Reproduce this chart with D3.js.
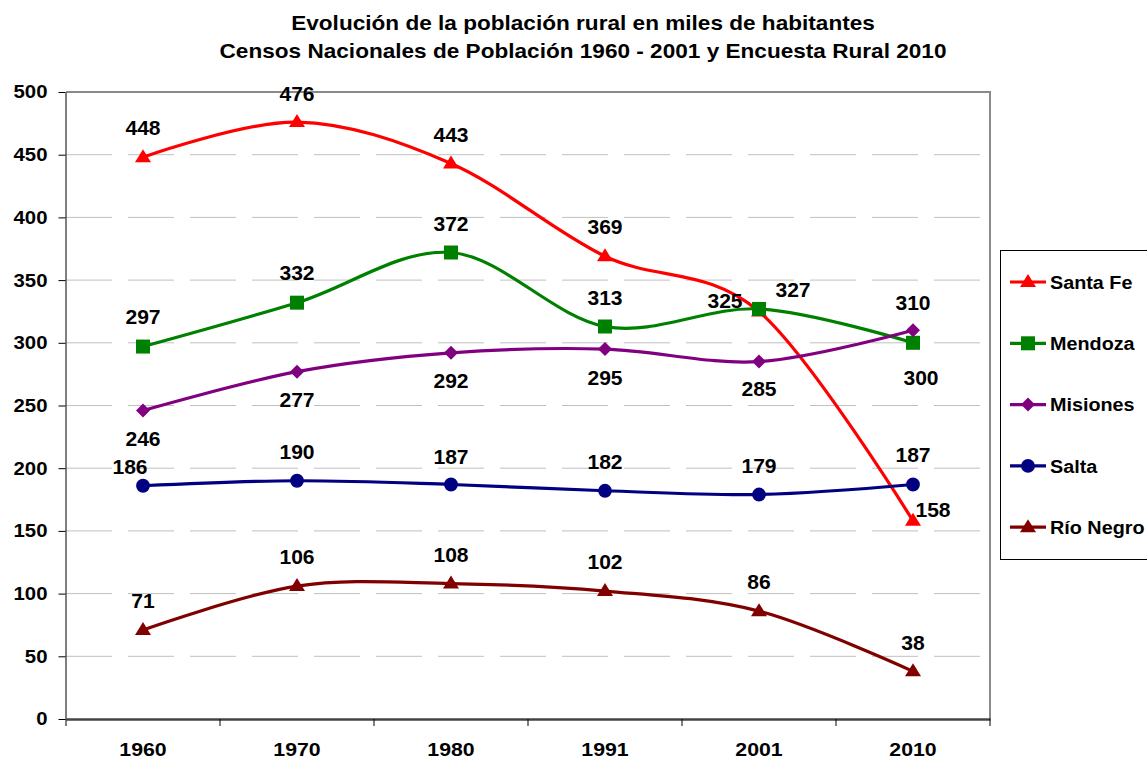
<!DOCTYPE html>
<html><head><meta charset="utf-8">
<script src="https://cdn.jsdelivr.net/npm/d3@7"></script>
<style>body{margin:0;background:#fff}svg{display:block;font-family:"Liberation Sans",Arial,sans-serif}</style>
</head><body><svg id="c" width="1147" height="761"></svg>
<script>
const categories = ["1960","1970","1980","1991","2001","2010"];
const santaFe  = [448, 476, 443, 369, 325, 158];
const mendoza  = [297, 332, 372, 313, 327, 300];
const misiones = [246, 277, 292, 295, 285, 310];
const salta    = [186, 190, 187, 182, 179, 187];
const rioNegro = [71, 106, 108, 102, 86, 38];
const yTicks = [0,50,100,150,200,250,300,350,400,450,500];
const titleLines = ["Evolución de la población rural en miles de habitantes","Censos Nacionales de Población 1960 - 2001 y Encuesta Rural 2010"];

const series = [
  {name:"Santa Fe", values:santaFe, color:"#FF0000", marker:"triangle"},
  {name:"Mendoza", values:mendoza, color:"#008000", marker:"square"},
  {name:"Misiones", values:misiones, color:"#800080", marker:"diamond"},
  {name:"Salta", values:salta, color:"#000080", marker:"circle"},
  {name:"Río Negro", values:rioNegro, color:"#800000", marker:"triangle"}
];
// label offsets (layout only)
const labelOffsets = {
  "Santa Fe": [[0,-29],[0,-28],[0,-29],[0,-29],[-34,-10],[20,-11]],
  "Mendoza":  [[0,-30],[0,-30],[0,-29],[0,-29],[34,-19],[8,35]],
  "Misiones": [[0,28],[0,28],[0,28],[0,29],[0,27],[0,-27]],
  "Salta":    [[-13,-19],[0,-29],[0,-28],[0,-29],[0,-29],[0,-30]],
  "Río Negro":[[0,-29],[0,-29],[0,-29],[0,-29],[0,-29],[0,-28]]
};

const svg = d3.select("#c");
const L=66, R=990, T=92, B=719;
const x = d3.scaleBand().domain(categories).range([L,R]).padding(0);
const cx = c => x(c) + x.bandwidth()/2;
const y = d3.scaleLinear().domain([0,500]).range([B,T]);

function stretch(sel, sx){
  sel.each(function(){
    const t = d3.select(this);
    const tx = +t.attr("x")||0, ty = +t.attr("y")||0;
    t.attr("x",0).attr("y",0).attr("transform",`translate(${tx},${ty}) scale(${sx},1)`);
  });
}

// title
svg.append("g").selectAll("text").data(titleLines).join("text")
  .attr("x",583).attr("y",(d,i)=>29.5+i*28).attr("text-anchor","middle")
  .attr("font-size",20).attr("font-weight","bold").text(d=>d)
  .call(stretch,1.13);

// gridlines
svg.append("g").selectAll("line").data(yTicks.filter(t=>t>0&&t<500)).join("line")
  .attr("x1",L).attr("x2",R).attr("y1",d=>y(d)).attr("y2",d=>y(d))
  .attr("stroke","#c0c0c0").attr("stroke-width",1).attr("stroke-dasharray","46,16");

// plot border top/right
svg.append("path").attr("d",`M${L},${T}H${R}V${B}`).attr("fill","none").attr("stroke","#8a8a8a").attr("stroke-width",2);

// y axis
const ya = svg.append("g").attr("transform",`translate(${L-0.5},0)`)
  .call(d3.axisLeft(y).tickValues(yTicks).tickSize(7).tickSizeOuter(0).tickPadding(11));
ya.select(".domain").attr("stroke","#000");
ya.selectAll(".tick line").attr("stroke","#000");
ya.selectAll("text").attr("font-size",18.5).attr("font-weight","bold").attr("fill","#000")
  .attr("font-family","Liberation Sans, Arial, sans-serif").call(stretch,1.1);

// x axis
const xa = svg.append("g").attr("transform",`translate(0,${B})`)
  .call(d3.axisBottom(x).tickSize(0).tickPadding(24));
xa.select(".domain").attr("stroke","#444").attr("stroke-width",2.5);
xa.selectAll("text").attr("font-size",19).attr("font-weight","bold").attr("fill","#000")
  .attr("font-family","Liberation Sans, Arial, sans-serif").call(stretch,1.12);
const bounds = categories.map(c=>x(c)).concat([R]);
svg.append("g").selectAll("line").data(bounds).join("line")
  .attr("x1",d=>d).attr("x2",d=>d).attr("y1",B).attr("y2",B+7).attr("stroke","#000");

function markerPath(type){
  if(type==="triangle") return "M0,-8L8,5L-8,5Z";
  if(type==="square") return "M-7,-7H7V7H-7Z";
  if(type==="diamond") return "M0,-7L7,0L0,7L-7,0Z";
  return d3.symbol(d3.symbolCircle, 150)();
}

const line = d3.line().x((d,i)=>cx(categories[i])).y(d=>y(d)).curve(d3.curveCatmullRom.alpha(0));
const gS = svg.append("g");
series.forEach(s=>{
  const g = gS.append("g");
  g.append("path").attr("d",line(s.values)).attr("fill","none").attr("stroke",s.color).attr("stroke-width",3.2);
  g.selectAll("path.m").data(s.values).join("path").attr("class","m")
    .attr("transform",(d,i)=>`translate(${cx(categories[i])},${y(d)})`)
    .attr("d",markerPath(s.marker)).attr("fill",s.color);
});
// labels
series.forEach(s=>{
  svg.append("g").selectAll("text").data(s.values).join("text")
    .attr("x",(d,i)=>cx(categories[i])+labelOffsets[s.name][i][0])
    .attr("y",(d,i)=>y(d)+labelOffsets[s.name][i][1])
    .attr("dy","0.36em").attr("text-anchor","middle")
    .attr("font-size",19.5).attr("font-weight","bold").text(d=>d)
    .call(stretch,1.08);
});

// legend
const lg = svg.append("g");
lg.append("rect").attr("x",1000.5).attr("y",250.5).attr("width",160).attr("height",309)
  .attr("fill","#fff").attr("stroke","#000").attr("stroke-width",1);
series.forEach((s,i)=>{
  const yy = 282 + i*61.3;
  lg.append("line").attr("x1",1010).attr("x2",1046).attr("y1",yy).attr("y2",yy).attr("stroke",s.color).attr("stroke-width",3.2);
  lg.append("path").attr("transform",`translate(1028,${yy})`).attr("d",markerPath(s.marker)).attr("fill",s.color);
  lg.append("text").attr("x",1050).attr("y",yy).attr("dy","0.36em").attr("font-size",18.5).attr("font-weight","bold").text(s.name)
    .call(stretch,1.07);
});
</script></body></html>
